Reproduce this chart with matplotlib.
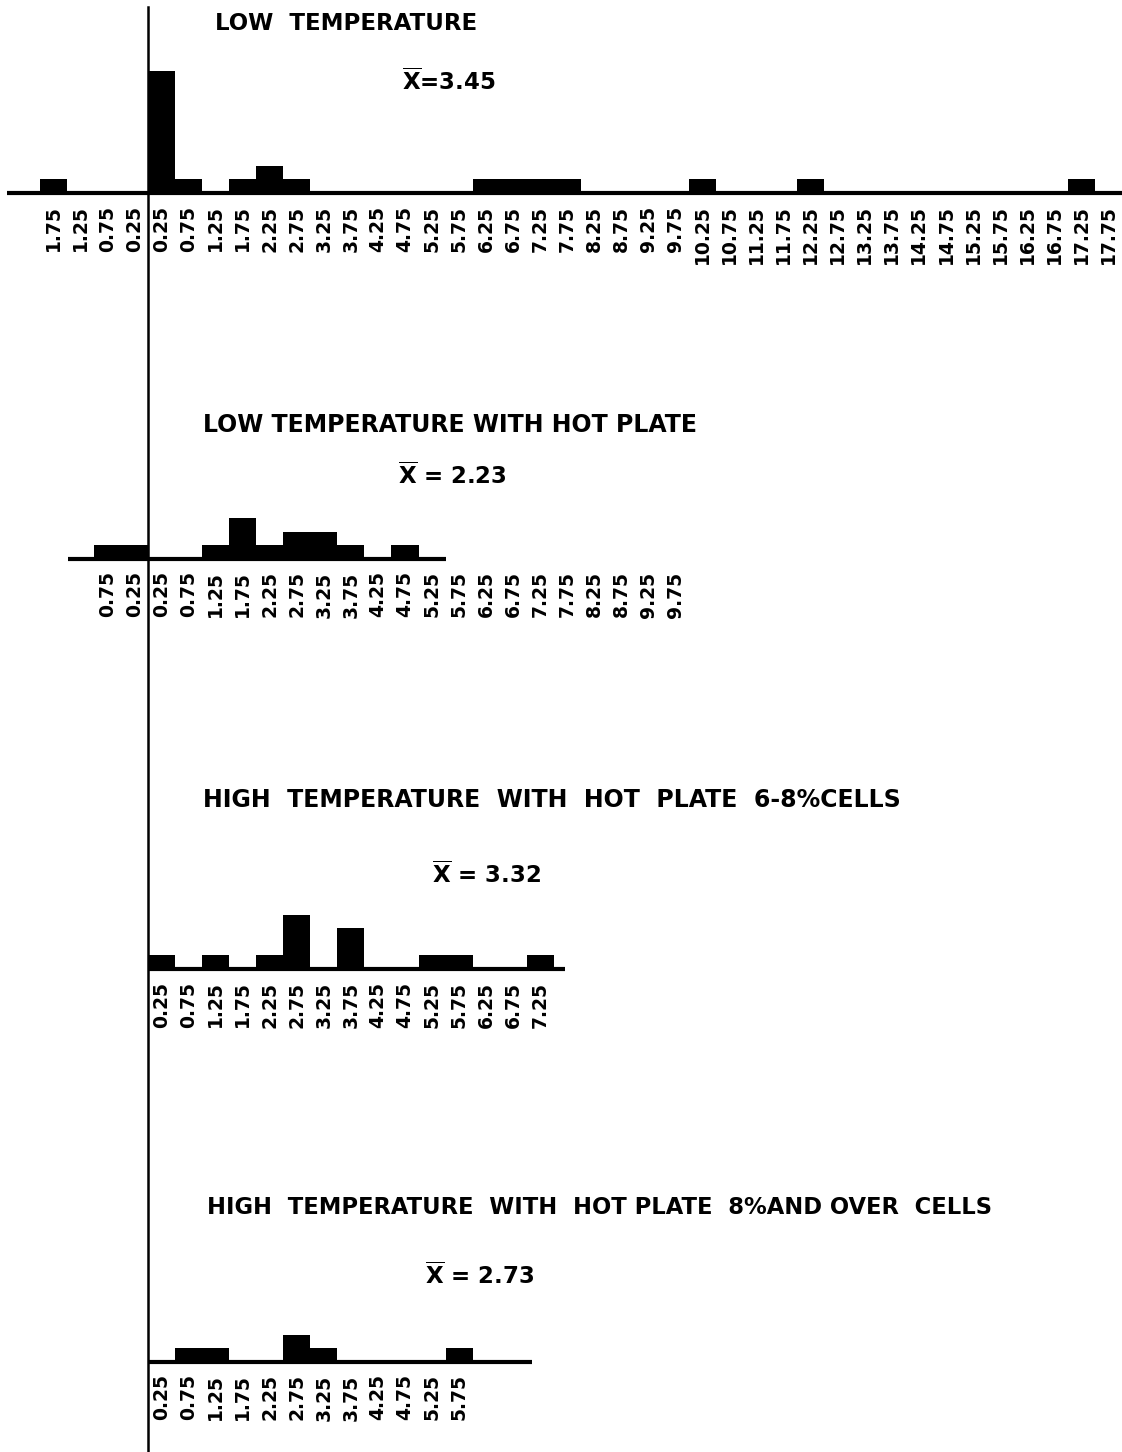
import numpy as np
import matplotlib
matplotlib.use('Agg')
import matplotlib.pyplot as plt

plt.rcParams['mathtext.fontset'] = 'custom'
plt.rcParams['mathtext.rm'] = 'DejaVu Sans:bold'
plt.rcParams['mathtext.it'] = 'DejaVu Sans:bold'
plt.rcParams['mathtext.bf'] = 'DejaVu Sans:bold'

# bin centres (negative = left of the zero line) and counts for each panel
low_centers = [-1.75, 0.25, 0.75, 1.75, 2.25, 2.75, 6.25, 6.75, 7.25, 7.75, 10.25, 12.25, 17.25]
low_counts = [1, 9, 1, 1, 2, 1, 1, 1, 1, 1, 1, 1, 1]
low_ticks = list(np.arange(-1.75, 0, 0.5)) + list(np.arange(0.25, 18, 0.5))

hp_centers = [-0.75, -0.25, 1.25, 1.75, 2.25, 2.75, 3.25, 3.75, 4.75]
hp_counts = [1, 1, 1, 3, 1, 2, 2, 1, 1]
hp_ticks = list(np.arange(-0.75, 0, 0.5)) + list(np.arange(0.25, 10, 0.5))

high68_centers = [0.25, 1.25, 2.25, 2.75, 3.75, 5.25, 5.75, 7.25]
high68_counts = [1, 1, 1, 4, 3, 1, 1, 1]
high68_ticks = list(np.arange(0.25, 7.5, 0.5))

high8_centers = [0.75, 1.25, 2.75, 3.25, 5.75]
high8_counts = [1, 1, 2, 1, 1]
high8_ticks = list(np.arange(0.25, 6, 0.5))

titles = ['LOW  TEMPERATURE',
          'LOW TEMPERATURE WITH HOT PLATE',
          'HIGH  TEMPERATURE  WITH  HOT  PLATE  6-8%CELLS',
          'HIGH  TEMPERATURE  WITH  HOT PLATE  8%AND OVER  CELLS']
xbar = r'$\overline{\mathrm{X}}$'
means = [xbar + '=3.45', xbar + ' = 2.23', xbar + ' = 3.32', xbar + ' = 2.73']

# extent of the drawn axis line in each panel
axis_ranges = [(-2.6, 18.1), (-1.48, 5.5), (0, 7.7), (0, 7.1)]

W, H = 1122, 1452
fig = plt.figure(figsize=(W / 100, H / 100), dpi=100)

px_per_unit = 54.1
zero_px = 148
xlim = (-zero_px / px_per_unit, (W - zero_px) / px_per_unit)
unit_px = 13.6
ax_h = 140

# layout (pixels): baseline y, title x/y, mean x/y
baselines = [193, 559, 969, 1362]
title_pos = [(215, 23), (203, 425), (203, 800), (207, 1207)]
title_size = [16.5, 17, 17, 16.3]
mean_pos = [(402, 82), (398, 476), (432, 875), (425, 1276)]

# background axes for the common zero line
ax0 = fig.add_axes([0, 0, 1, 1])
ax0.set_xlim(xlim)
ax0.set_ylim(0, H)
ax0.axis('off')
ax0.axvline(0, ymin=0, ymax=(H - 7) / H, color='black', lw=1.8, zorder=5)

panels = [(low_centers, low_counts, low_ticks),
          (hp_centers, hp_counts, hp_ticks),
          (high68_centers, high68_counts, high68_ticks),
          (high8_centers, high8_counts, high8_ticks)]

for i, (centers, counts, ticks) in enumerate(panels):
    ax = fig.add_axes([0, 1 - baselines[i] / H, 1, ax_h / H])
    ax.set_xlim(xlim)
    ax.set_ylim(0, ax_h / unit_px)
    ax.patch.set_alpha(0)
    ax.bar(centers, counts, width=0.5, color='black', align='center')
    ax.plot(axis_ranges[i], [0, 0], color='black', lw=3, solid_capstyle='butt', clip_on=False)
    for s in ax.spines.values():
        s.set_visible(False)
    ax.set_yticks([])
    ax.set_xticks(ticks)
    ax.set_xticklabels([f'{abs(t):.2f}' for t in ticks], rotation=90,
                       fontsize=13.5, fontweight='bold')
    ax.tick_params(axis='x', length=0, pad=9)

    tx, ty = title_pos[i]
    fig.text(tx / W, 1 - ty / H, titles[i], fontsize=title_size[i], fontweight='bold',
             ha='left', va='center')
    mx, my = mean_pos[i]
    fig.text(mx / W, 1 - my / H, means[i], fontsize=16.5,
             fontweight='bold', ha='left', va='center')

fig.savefig('out.png', dpi=100, facecolor='white')
